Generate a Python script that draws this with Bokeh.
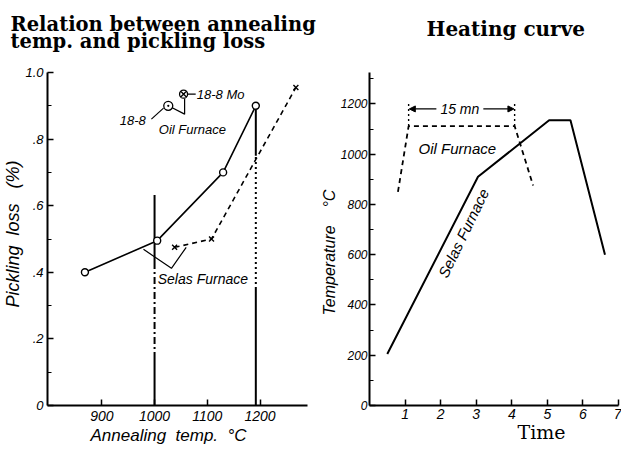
from bokeh.plotting import figure
from bokeh.models import Range1d, FixedTicker, CustomJSTickFormatter, Label, Arrow, NormalHead, Title
from bokeh.layouts import row
from bokeh.embed import file_html
from bokeh.resources import INLINE

# ---------------- data: left chart (annealing temp vs pickling loss) ----------------
oil_anneal_temp = [868, 1005, 1130, 1192]
oil_pickling_loss = [0.40, 0.495, 0.70, 0.90]
selas_anneal_temp = [1038, 1108, 1268]
selas_pickling_loss = [0.475, 0.50, 0.955]
loss_ticks = [0, 0.2, 0.4, 0.6, 0.8, 1.0]
loss_minor_ticks = [0.1, 0.3, 0.5, 0.7, 0.9]
anneal_ticks = [900, 1000, 1100, 1200]

# break lines (temperature, [solid top], [broken middle], [solid bottom])
break1_temp = 1000
break1_solid_top = [0.41, 0.632]
break1_broken = [0.14, 0.41]
break1_solid_bottom = [0.0, 0.14]
break2_temp = 1192
break2_solid_top = [0.75, 0.90]
break2_broken = [0.35, 0.75]
break2_solid_bottom = [0.0, 0.35]

# legend symbols (18-8 / 18-8 Mo)
sym_18_8 = (1026, 0.90)
sym_18_8_mo = (1055, 0.935)

# ---------------- data: right chart (heating curve) ----------------
selas_time = [0.5, 3.05, 5.05, 5.65, 6.62]
selas_temp = [205, 910, 1135, 1135, 600]
oil_time = [0.8, 1.1, 4.08, 4.6]
oil_temp = [850, 1112, 1112, 875]
temp_ticks = [0, 200, 400, 600, 800, 1000, 1200]
temp_minor_ticks = [100, 300, 500, 700, 900, 1100, 1300]
time_ticks = [1, 2, 3, 4, 5, 6, 7]
span_start, span_end, span_level = 1.1, 4.08, 1180

TICK_FONT = "Liberation Sans"
SERIF = "DejaVu Serif"
NB = "\u00a0"


def style_axes(p):
    for ax in (p.xaxis[0], p.yaxis[0]):
        ax.axis_line_width = 2
        ax.axis_line_color = "black"
        ax.major_tick_in = 6
        ax.major_tick_out = 0
        ax.minor_tick_in = 4
        ax.minor_tick_out = 0
        ax.major_tick_line_width = 1.5
        ax.minor_tick_line_width = 1.2
        ax.major_label_text_font = TICK_FONT
        ax.major_label_text_font_style = "italic"
        ax.major_label_text_font_size = "13px"
        ax.major_label_text_color = "black"
    p.xgrid.visible = False
    p.ygrid.visible = False
    p.outline_line_color = None
    p.background_fill_color = "white"
    p.border_fill_color = "white"


def add_title(p, side, text, size, font=TICK_FONT, style="italic", align="left",
              offset=0, standoff=0):
    p.add_layout(Title(text=text, text_font=font, text_font_style=style,
                       text_font_size=size, align=align, offset=offset,
                       standoff=standoff, text_color="black"), side)


def add_spacer(p, side, standoff):
    # blank layout spacer (white on white) that pushes the titles away from the frame
    p.add_layout(Title(text=".", text_font_size="6px", standoff=standoff,
                       text_color="white"), side)


def add_label(p, x, y, text, size, font=TICK_FONT, style="italic", align="left",
              baseline="middle", angle=0):
    p.add_layout(Label(x=x, y=y, text=text, text_font=font, text_font_style=style,
                       text_font_size=size, text_align=align, text_baseline=baseline,
                       angle=angle, angle_units="deg", text_color="black"))


# ======================= LEFT =======================
left = figure(width=318, height=456, output_backend="svg", toolbar_location=None,
              x_range=Range1d(797, 1290), y_range=Range1d(0, 1.0),
              min_border_left=45, min_border_right=11, min_border_top=68, min_border_bottom=51)
style_axes(left)
left.xaxis[0].ticker = FixedTicker(ticks=anneal_ticks)
left.xaxis[0].major_label_standoff = 5
left.xaxis[0].major_label_text_font_size = "14px"
left.yaxis[0].ticker = FixedTicker(ticks=loss_ticks, minor_ticks=loss_minor_ticks)
left.yaxis[0].major_label_standoff = 4
left.yaxis[0].formatter = CustomJSTickFormatter(code="""
    if (tick == 0) return "0";
    if (tick >= 1) return tick.toFixed(1);
    return tick.toFixed(1).slice(1);
""")

# break lines
for t, top, mid, bot, dash in [(break1_temp, break1_solid_top, break1_broken, break1_solid_bottom, "7 3 2 3"),
                               (break2_temp, break2_solid_top, break2_broken, break2_solid_bottom, "2 3")]:
    left.line([t, t], top, line_color="black", line_width=2)
    left.line([t, t], mid, line_color="black", line_width=2, line_dash=dash)
    left.line([t, t], bot, line_color="black", line_width=2)

left.line(oil_anneal_temp, oil_pickling_loss, line_color="black", line_width=1.6)
left.scatter(oil_anneal_temp, oil_pickling_loss, marker="circle", size=7,
             fill_color="white", line_color="black", line_width=1.4)
left.line(selas_anneal_temp, selas_pickling_loss, line_color="black", line_width=1.6, line_dash="5 4")
left.scatter(selas_anneal_temp, selas_pickling_loss, marker="x", size=7, line_color="black", line_width=1.4)

# Selas leader
left.line([979, 1032, 1060], [0.469, 0.412, 0.475], line_color="black", line_width=1.2)
# Oil furnace legend symbols
left.line([994, 1017], [0.86, 0.893], line_color="black", line_width=1.2)
left.line([sym_18_8[0], 1057, 1057], [sym_18_8[1], 0.875, 0.922], line_color="black", line_width=1.2)
left.line([1062, 1078], [sym_18_8_mo[1], sym_18_8_mo[1]], line_color="black", line_width=1.2)
left.scatter([sym_18_8[0]], [sym_18_8[1]], marker="circle_dot", size=9,
             fill_color="white", line_color="black", line_width=1.3)
left.scatter([sym_18_8_mo[0]], [sym_18_8_mo[1]], marker="circle_x", size=8,
             fill_color="white", line_color="black", line_width=1.3)

add_label(left, 1006, 0.38, "Selas Furnace", "14px")
add_label(left, 1008, 0.83, "Oil Furnace", "13px")
add_label(left, 934, 0.855, "18-8", "13px")
add_label(left, 1080, 0.935, "18-8 Mo", "13px")

add_spacer(left, "above", 14)
add_title(left, "above", "temp. and pickling loss", "19.5px", font=SERIF, style="bold",
          align="left", offset=-37, standoff=0)
add_title(left, "above", "Relation between annealing", "19.5px", font=SERIF, style="bold",
          align="left", offset=-37, standoff=-16)
add_title(left, "left", "Pickling" + NB + " loss" + NB + NB + " (%)", "18px",
          align="left", offset=98, standoff=0)
add_title(left, "below", "Annealing" + NB + " temp." + NB + " °C", "17px",
          align="left", offset=43, standoff=0)

# ======================= RIGHT =======================
right = figure(width=303, height=456, output_backend="svg", toolbar_location=None,
               x_range=Range1d(0, 7), y_range=Range1d(0, 1325),
               min_border_left=51, min_border_right=3, min_border_top=72, min_border_bottom=44)
style_axes(right)
right.xaxis[0].ticker = FixedTicker(ticks=time_ticks)
right.xaxis[0].major_label_standoff = 3
right.xaxis[0].major_label_text_font_size = "14px"
right.yaxis[0].ticker = FixedTicker(ticks=temp_ticks, minor_ticks=temp_minor_ticks)
right.yaxis[0].major_label_standoff = 2
right.yaxis[0].major_label_text_font_size = "12px"

right.line(selas_time, selas_temp, line_color="black", line_width=2)
right.line(oil_time, oil_temp, line_color="black", line_width=1.8, line_dash="5 4")
right.line([span_start, span_start], [oil_temp[1], 1200], line_color="black", line_width=1.4, line_dash="2 3")
right.line([span_end, span_end], [oil_temp[2], 1200], line_color="black", line_width=1.4, line_dash="2 3")
right.add_layout(Arrow(end=NormalHead(size=6, fill_color="black", line_color="black"),
                       x_start=1.88, y_start=span_level, x_end=span_start + 0.02, y_end=span_level,
                       line_width=1.2, line_color="black"))
right.add_layout(Arrow(end=NormalHead(size=6, fill_color="black", line_color="black"),
                       x_start=3.2, y_start=span_level, x_end=span_end - 0.02, y_end=span_level,
                       line_width=1.2, line_color="black"))

add_label(right, 2.47, 1021, "Oil Furnace", "15px", align="center")
add_label(right, 2.54, span_level, "15 mn", "14px", align="center")
add_label(right, 2.64, 686, "Selas Furnace", "15px", align="center", angle=64)

add_spacer(right, "above", 26)
add_title(right, "above", "Heating curve", "20px", font=SERIF, style="bold",
          align="left", offset=57, standoff=0)
add_title(right, "left", "Temperature" + NB + NB + NB + " °C", "16px",
          align="left", offset=90, standoff=0)
add_title(right, "below", "Time", "19px", font=SERIF, style="normal",
          align="left", offset=148, standoff=-6)

layout = row(left, right)
open("out.html", "w").write(file_html(layout, INLINE))
